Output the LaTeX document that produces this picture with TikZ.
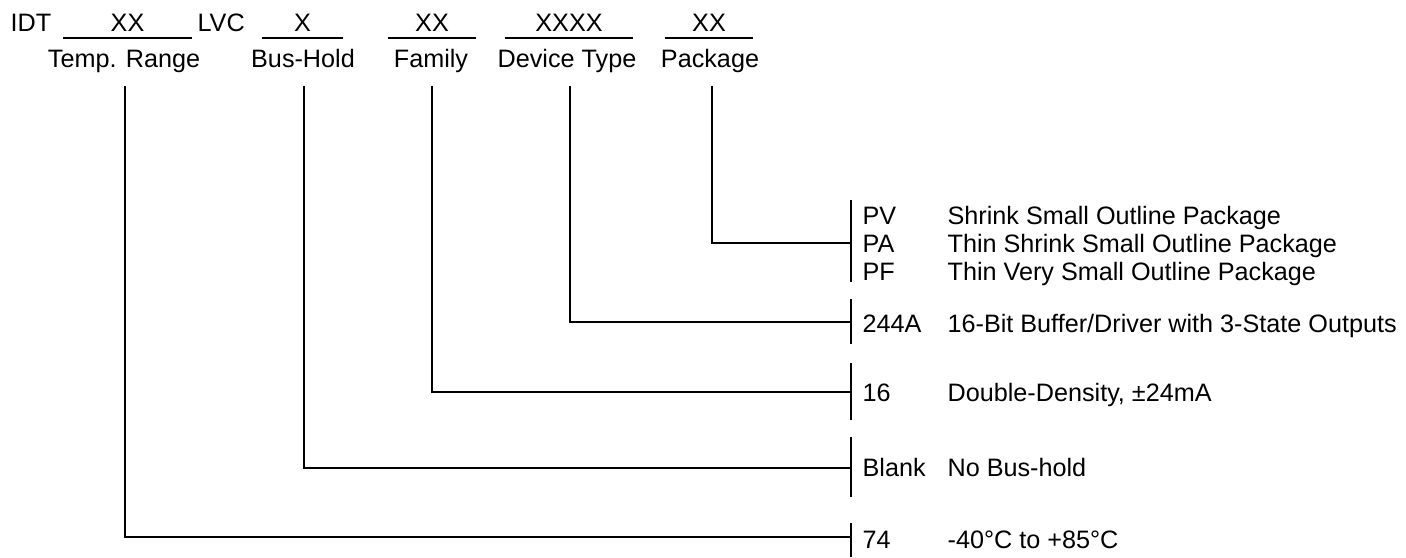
\documentclass[tikz,border=0pt]{standalone}
\usepackage{fontspec}
\setmainfont{Liberation Sans}
\begin{document}
\begin{tikzpicture}[
	x=0.5pt,
	y=-0.5pt,
	line width=0.6pt,
	font=\fontsize{12.6}{15}\selectfont,
	lefttext/.style={
		inner sep=0pt,
		anchor=base west
	},
	midtext/.style={
		inner sep=0pt,
		anchor=base
	}
]
\useasboundingbox (0,0) rectangle (1406,557);

\node[lefttext] (idt) at (10,32) {IDT};
\node[midtext] (xxTemp) at (127.5,32) {XX};
\node[lefttext] (lvc) at (197,32) {LVC};
\node[midtext] (xBus) at (302.5,32) {X};
\node[midtext] (xxFam) at (432,32) {XX};
\node[midtext] (xxxxDev) at (569,32) {XXXX};
\node[midtext] (xxPkg) at (709,32) {XX};

\draw (63,38) -- (192,38);
\draw (262,38) -- (343,38);
\draw (388,38) -- (476,38);
\draw (505,38) -- (633,38);
\draw (665,38) -- (753,38);

\node[midtext] (fTemp) at (124,67) {Temp. Range};
\node[midtext] (fBus) at (303,67) {Bus-Hold};
\node[midtext] (fFam) at (431,67) {Family};
\node[midtext] (fDev) at (567,67) {Device Type};
\node[midtext] (fPkg) at (710,67) {Package};

\node[lefttext] (cPV) at (862,224) {PV};
\node[lefttext] (cPA) at (862,252) {PA};
\node[lefttext] (cPF) at (862,280) {PF};
\node[lefttext] (c244) at (862,332) {244A};
\node[lefttext] (c16) at (862,401) {16};
\node[lefttext] (cBlank) at (862,476) {Blank};
\node[lefttext] (c74) at (862,548) {74};

\node[lefttext] (dPV) at (947,224) {Shrink Small Outline Package};
\node[lefttext] (dPA) at (947,252) {Thin Shrink Small Outline Package};
\node[lefttext] (dPF) at (947,280) {Thin Very Small Outline Package};
\node[lefttext] (d244) at (947,332) {16-Bit Buffer/Driver with 3-State Outputs};
\node[lefttext] (d16) at (947,401) {Double-Density, ±24mA};
\node[lefttext] (dBlank) at (947,476) {No Bus-hold};
\node[lefttext] (d74) at (947,548) {-40°C to +85°C};

\draw (851,200) -- (851,282);
\draw (851,299) -- (851,344);
\draw (851,363) -- (851,420);
\draw (851,437) -- (851,497);
\draw (851,523) -- (851,557);

\coordinate (tTemp) at (125,86);
\coordinate (tBus) at (304,86);
\coordinate (tFam) at (432,86);
\coordinate (tDev) at (570,86);
\coordinate (tPkg) at (712,86);

\coordinate (jPkg) at (851,243);
\coordinate (jDev) at (851,322);
\coordinate (jFam) at (851,392);
\coordinate (jBus) at (851,468);
\coordinate (jTemp) at (851,537);

\draw (tPkg) |- (jPkg);
\draw (tDev) |- (jDev);
\draw (tFam) |- (jFam);
\draw (tBus) |- (jBus);
\draw (tTemp) |- (jTemp);

\end{tikzpicture}
\end{document}
